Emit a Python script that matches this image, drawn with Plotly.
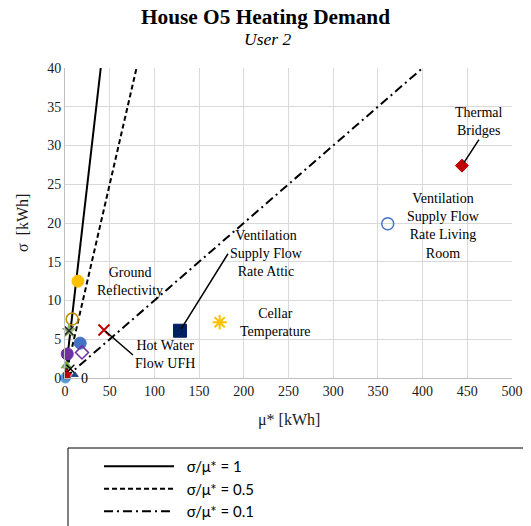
import plotly.graph_objects as go

# ---- data ----
param_names = [
    "Thermal Bridges", "Ventilation Supply Flow Rate Living Room",
    "Ventilation Supply Flow Rate Attic", "Cellar Temperature",
    "Hot Water Flow UFH", "Ground Reflectivity",
    "Parameter 7", "Parameter 8", "Parameter 9", "Parameter 10",
    "Parameter 11", "Parameter 12", "Parameter 13", "Parameter 14",
    "Parameter 15", "Parameter 16", "Parameter 17", "Parameter 18", "Parameter 19",
]
mu_star = [444, 361, 128.6, 173, 43.6, 14.5, 8.0, 4.5, 4.5, 17, 19, 2.5,
           1.5, 3, 1, 6, 0.5, 2, 11]
sigma = [27.4, 19.9, 6.1, 7.2, 6.2, 12.5, 7.6, 6.1, 6.1, 4.5, 3.3, 3.1,
         1.6, 0.8, 0.3, 1.2, 0.0, 0.3, 0.4]

ratio_labels = ["σ/μ* = 1", "σ/μ* = 0.5", "σ/μ* = 0.1"]
ratio_values = [1, 0.5, 0.1]
ratio_mu_end = [40, 80, 400]

# ---- styles ----
styles = {
    "Thermal Bridges": ("diamond", "#C00000", 10, 1),
    "Ventilation Supply Flow Rate Living Room": ("circle-open", "#4472C4", 12, 1.5),
    "Ventilation Supply Flow Rate Attic": ("square", "#002060", 13, 1),
    "Cellar Temperature": ("asterisk-open", "#FFC000", 12, 2),
    "Hot Water Flow UFH": ("x-thin-open", "#C00000", 11, 2),
    "Ground Reflectivity": ("circle", "#FFC000", 12, 1),
    "Parameter 7": ("circle-open", "#BF9000", 12, 1.5),
    "Parameter 8": ("star", "#8FAF6E", 10, 1),
    "Parameter 9": ("x-thin-open", "#262626", 9, 1.5),
    "Parameter 10": ("circle", "#4472C4", 12, 1),
    "Parameter 11": ("diamond-open", "#7030A0", 10, 1.5),
    "Parameter 12": ("circle", "#7030A0", 12, 1),
    "Parameter 13": ("triangle-up", "#70AD47", 9, 1),
    "Parameter 14": ("x-thin-open", "#FF0000", 7, 1.5),
    "Parameter 15": ("square", "#ED7D31", 6, 1),
    "Parameter 16": ("x-thin-open", "#000000", 8, 1.5),
    "Parameter 17": ("circle", "#5B9BD5", 10, 1),
    "Parameter 18": ("square", "#C00000", 6, 1),
    "Parameter 19": ("triangle-up", "#264478", 6, 1),
}
dash_styles = ["solid", "5px,3px", "9px,4px,2px,4px"]

fig = go.Figure()

for lab, r, xe, d in zip(ratio_labels, ratio_values, ratio_mu_end, dash_styles):
    fig.add_trace(go.Scatter(
        x=[0, xe], y=[0, r * xe], mode="lines", name="\u00a0\u00a0" + lab,
        line=dict(color="black", width=2, dash=d), hoverinfo="skip",
    ))

fig.add_trace(go.Scatter(
    x=mu_star, y=sigma, mode="markers", text=param_names, showlegend=False,
    cliponaxis=False,
    marker=dict(
        opacity=1,
        symbol=[styles[n][0] for n in param_names],
        color=[styles[n][1] for n in param_names],
        size=[styles[n][2] for n in param_names],
        line=dict(color=[styles[n][1] for n in param_names],
                  width=[styles[n][3] for n in param_names]),
    ),
))

serif = "Liberation Serif"
ann_font = dict(family=serif, size=14, color="black")

def pt(name):
    i = param_names.index(name)
    return mu_star[i], sigma[i]

annotations = []
x, y = pt("Thermal Bridges")
annotations.append(dict(x=x, y=y, text="Thermal<br>Bridges", showarrow=True,
                        arrowhead=0, arrowwidth=1.5, arrowcolor="black",
                        ax=17, ay=-26, xanchor="center", yanchor="bottom",
                        font=ann_font, align="center", standoff=4))
annotations.append(dict(x=423, y=19.6, text="Ventilation<br>Supply Flow<br>Rate Living<br>Room",
                        showarrow=False, font=ann_font, align="center"))
x, y = pt("Ventilation Supply Flow Rate Attic")
annotations.append(dict(x=x, y=y, text="Ventilation<br>Supply Flow<br>Rate Attic",
                        showarrow=True, arrowhead=0, arrowwidth=1.5, arrowcolor="black",
                        ax=48, ay=-77, xanchor="left", yanchor="middle",
                        font=ann_font, align="center", standoff=2))
annotations.append(dict(x=236, y=7.1, text="Cellar<br>Temperature", showarrow=False,
                        font=ann_font, align="center"))
x, y = pt("Hot Water Flow UFH")
annotations.append(dict(x=x, y=y, text="Hot Water<br>Flow UFH", showarrow=True,
                        arrowhead=0, arrowwidth=1.5, arrowcolor="black",
                        ax=29, ay=25, xanchor="left", yanchor="middle",
                        font=ann_font, align="center", standoff=2))
annotations.append(dict(x=72.7, y=12.5, text="Ground<br>Reflectivity", showarrow=False,
                        font=ann_font, align="center"))
annotations.append(dict(x=21.3, y=0, text="0", showarrow=False, font=ann_font))

for a in annotations:
    a.setdefault("xref", "x")
    a.setdefault("yref", "y")

annotations.append(dict(xref="paper", yref="paper", x=(265 - 65) / 447, y=1 + (68 - 16.5) / 310,
                        text="<b>House O5 Heating Demand</b>", showarrow=False,
                        font=dict(family=serif, size=21.3, color="black"),
                        xanchor="center", yanchor="middle"))
annotations.append(dict(xref="paper", yref="paper", x=(267 - 65) / 447, y=1 + (68 - 39) / 310,
                        text="<i>User 2</i>", showarrow=False,
                        font=dict(family=serif, size=17.5, color="black"),
                        xanchor="center", yanchor="middle"))
annotations.append(dict(xref="paper", yref="paper", x=(22 - 65) / 447, y=0.5,
                        text="σ  [kWh]", textangle=-90, showarrow=False,
                        font=dict(family=serif, size=16, color="#1a1a1a"),
                        xanchor="center", yanchor="middle"))
annotations.append(dict(xref="paper", yref="paper", x=0.5, y=(378 - 420) / 310,
                        text="μ* [kWh]", showarrow=False,
                        font=dict(family=serif, size=16, color="#1a1a1a"),
                        xanchor="center", yanchor="middle"))

fig.update_layout(
    width=523, height=518,
    margin=dict(l=57, r=19, t=60, b=148, autoexpand=False),
    paper_bgcolor="white", plot_bgcolor="white",
    font=dict(family=serif, size=14, color="#1a1a1a"),
    annotations=annotations,
    showlegend=True,
    legend=dict(
        x=(99 - 65) / 447, y=(378 - 450) / 310, xanchor="left", yanchor="top",
        font=dict(family="Lato", size=15, color="black"),
        bgcolor="rgba(0,0,0,0)", borderwidth=0, itemwidth=70, tracegroupgap=0,
    ),
    shapes=[dict(type="rect", xref="paper", yref="paper",
                 x0=(68 - 65) / 447, x1=2,
                 y0=(378 - 448) / 310, y1=-2,
                 line=dict(color="black", width=1), fillcolor="rgba(0,0,0,0)",
                 layer="below")],
    xaxis=dict(range=[0, 500], dtick=50, showgrid=True, gridcolor="#D9D9D9",
               gridwidth=1, zeroline=False, showline=True, linecolor="#BFBFBF",
               ticks="", automargin=False,
               tickfont=dict(family=serif, size=14, color="#1a1a1a")),
    yaxis=dict(range=[0, 40], dtick=5, showgrid=True, gridcolor="#D9D9D9",
               gridwidth=1, zeroline=False, showline=True, linecolor="#BFBFBF",
               ticks="", automargin=False,
               tickfont=dict(family=serif, size=14, color="#1a1a1a")),
)

fig.write_html("out.html")
